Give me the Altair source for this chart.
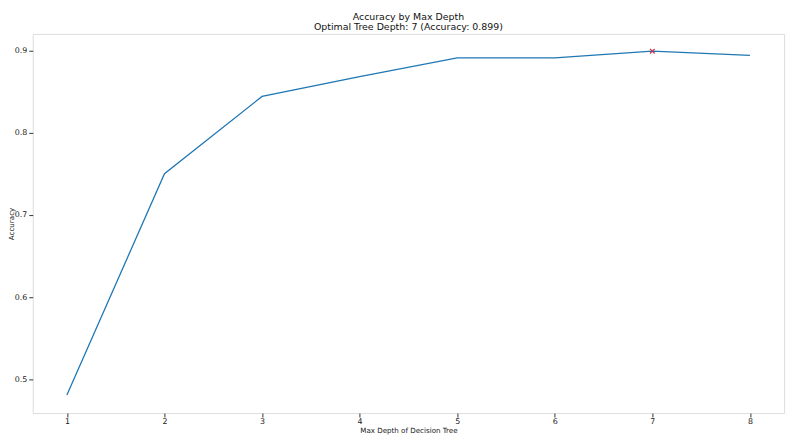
import altair as alt
import pandas as pd

depths = [1, 2, 3, 4, 5, 6, 7, 8]
accuracy = [0.481, 0.750, 0.844, 0.868, 0.891, 0.891, 0.899, 0.894]
x_ticks = [1, 2, 3, 4, 5, 6, 7, 8]
y_ticks = [0.5, 0.6, 0.7, 0.8, 0.9]

best_i = max(range(len(accuracy)), key=lambda i: accuracy[i])
best_depth = depths[best_i]
best_acc = accuracy[best_i]

df = pd.DataFrame({"depth": depths, "accuracy": accuracy})
best_df = pd.DataFrame({"depth": [best_depth], "accuracy": [best_acc]})

FONT = "DejaVu Sans"

x_enc = alt.X(
    "depth:Q",
    scale=alt.Scale(domain=[0.65, 8.35], nice=False, zero=False),
    axis=alt.Axis(values=x_ticks, format="d", title="Max Depth of Decision Tree",
                  grid=False, domain=False, tickSize=4, tickColor="#333",
                  labelPadding=1, titlePadding=1, labelFontSize=8, titleFontSize=7.2,
                  labelFont=FONT, titleFont=FONT, titleFontWeight="normal",
                  labelColor="#222", titleColor="#222"),
)
y_enc = alt.Y(
    "accuracy:Q",
    scale=alt.Scale(domain=[0.459, 0.920], nice=False, zero=False),
    axis=alt.Axis(values=y_ticks, format=".1f", title="Accuracy",
                  grid=False, domain=False, tickSize=4, tickColor="#333",
                  labelPadding=2, titleX=-17, titleBaseline="bottom",
                  labelFontSize=8, titleFontSize=7.2,
                  labelFont=FONT, titleFont=FONT, titleFontWeight="normal",
                  labelColor="#222", titleColor="#222"),
)

line = alt.Chart(df).mark_line(color="#1f77b4", strokeWidth=1.3).encode(x=x_enc, y=y_enc)
marker = alt.Chart(best_df).mark_point(
    shape="M-1,-1L1,1M-1,1L1,-1", size=22, color="#c8334f", filled=False, strokeWidth=1.2, opacity=1
).encode(x="depth:Q", y="accuracy:Q")

title_lines = [
    "Accuracy by Max Depth",
    f"Optimal Tree Depth: {best_depth} (Accuracy: {best_acc:.3f})",
]

chart = (
    alt.layer(line, marker)
    .properties(
        width=759,
        height=383,
        padding={"left": 25, "top": 24, "right": 8, "bottom": 21},
        autosize=alt.AutoSizeParams(type="none"),
        title=alt.TitleParams(title_lines, fontSize=9.5, font=FONT, fontWeight="normal",
                              anchor="middle", color="#111", lineHeight=10.5, offset=2, frame="group"),
    )
    .configure_view(stroke="#444", strokeWidth=1)
    .configure(background="white")
)

chart.save("out.html", embed_options={"renderer": "svg", "actions": False})
